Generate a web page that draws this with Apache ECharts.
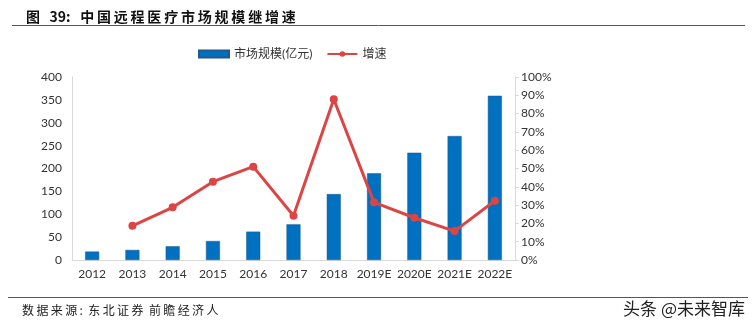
<!DOCTYPE html>
<html><head><meta charset="utf-8">
<script src="https://cdn.jsdelivr.net/npm/echarts@6/dist/echarts.min.js"></script>
<style>html,body{margin:0;padding:0;background:#fff}#c{width:755px;height:331px}</style>
</head><body><div id="c"></div>
<script>
const categories = ['2012','2013','2014','2015','2016','2017','2018','2019E','2020E','2021E','2022E'];
const marketSize = [18.5, 22, 30, 41.5, 62, 78, 144, 189.5, 234.5, 271, 359];
const growth = [null, 18.7, 28.8, 42.8, 51, 24.2, 87.8, 31.5, 23.1, 15.8, 32.4];
const leftTicks = [0, 400, 50];
const rightTicks = [0, 100, 10];

const sp = s => s.split('').join('\u2009');
const chart = echarts.init(document.getElementById('c'));
const font = 'Lato, "Noto Sans CJK SC", sans-serif';
chart.setOption({
  animation: false,
  title: {
    text: '图   39:   ' + sp('中国远程医疗市场规模继增速'),
    left: 21, top: 5,
    textStyle: {fontFamily: '"Noto Sans CJK SC", serif', fontWeight: 'bold', fontSize: 14, color: '#111'}
  },
  graphic: [
    {type: 'line', shape: {x1: 12, y1: 25.5, x2: 745, y2: 25.5}, style: {stroke: '#555', lineWidth: 1}},
    {type: 'line', shape: {x1: 8, y1: 297.5, x2: 748, y2: 297.5}, style: {stroke: '#555', lineWidth: 1}},
    {type: 'text', left: 22, top: 304, style: {text: sp('数据来源:') + '  ' + sp('东北证券') + '  ' + sp('前瞻经济人'), fontFamily: '"Noto Sans CJK SC"', fontSize: 12, fill: '#222'}},
    {type: 'text', right: 10, top: 300, style: {text: '头条 @未来智库', fontFamily: '"Noto Sans CJK SC"', fontSize: 17, fill: '#222'}}
  ],
  legend: {
    top: 43, left: 193,
    itemGap: 14,
    textStyle: {fontFamily: font, fontSize: 12, color: '#333'},
    data: [
      {name: '市场规模(亿元)', icon: 'rect', itemStyle: {color: '#0070c0'}},
      {name: '增速'}
    ],
    itemWidth: 30, itemHeight: 7
  },
  grid: {left: 72, right: 240, top: 77, bottom: 71},
  xAxis: {
    type: 'category', data: categories,
    axisLine: {lineStyle: {color: '#d9d9d9'}},
    axisTick: {show: false},
    axisLabel: {color: '#333', fontFamily: font, fontSize: 12, margin: 8, interval: 0}
  },
  yAxis: [
    {type: 'value', min: leftTicks[0], max: leftTicks[1], interval: leftTicks[2],
     axisLine: {show: true, lineStyle: {color: '#d9d9d9'}}, axisTick: {show: false},
     splitLine: {show: false},
     axisLabel: {color: '#333', fontFamily: font, fontSize: 12, margin: 10}},
    {type: 'value', min: rightTicks[0], max: rightTicks[1], interval: rightTicks[2],
     axisLine: {show: true, lineStyle: {color: '#d9d9d9'}},
     axisTick: {show: true, length: 4, lineStyle: {color: '#d9d9d9'}},
     splitLine: {show: false},
     axisLabel: {color: '#333', fontFamily: font, fontSize: 12, margin: 6, formatter: '{value}%'}}
  ],
  series: [
    {name: '市场规模(亿元)', type: 'bar', data: marketSize, barWidth: 14,
     itemStyle: {color: '#0070c0', borderColor: '#1f5a8a', borderWidth: 0.5}},
    {name: '增速', type: 'line', yAxisIndex: 1, data: growth,
     symbol: 'circle', symbolSize: 8, connectNulls: false,
     lineStyle: {color: '#dd4444', width: 3}, itemStyle: {color: '#dd4444'}}
  ]
});
</script></body></html>
